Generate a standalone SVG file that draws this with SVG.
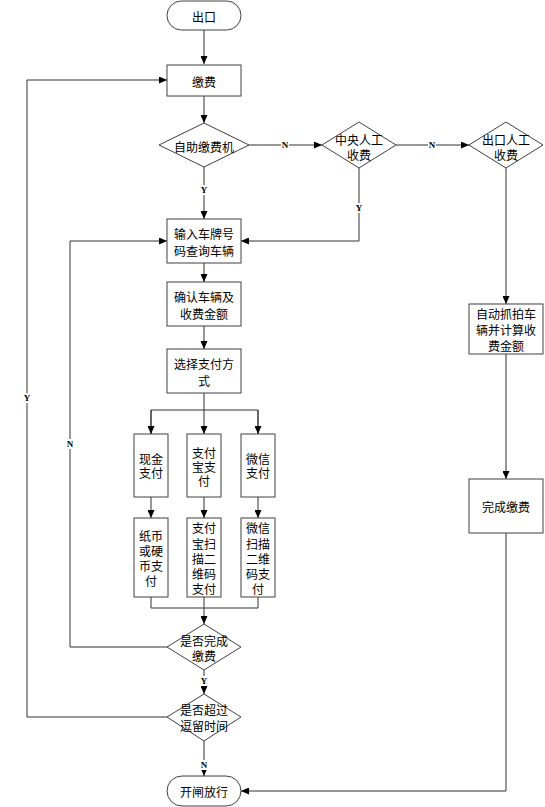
<svg xmlns="http://www.w3.org/2000/svg" width="545" height="807" viewBox="0 0 545 807">
<style>
.n{fill:#fff;stroke:#404040;stroke-width:1}
.t{font-family:"Noto Sans CJK SC","Noto Sans",sans-serif;font-size:12px;fill:#000;text-anchor:middle;dominant-baseline:central}
.c{fill:none;stroke:#333;stroke-width:1}
.lb{font-family:"Liberation Serif",serif;font-size:9px;font-weight:bold;fill:#000;text-anchor:middle;dominant-baseline:central}
</style>
<defs>
<marker id="a" markerUnits="userSpaceOnUse" markerWidth="8" markerHeight="7" refX="8" refY="3.5" orient="auto">
<path d="M0,0 L8,3.5 L0,7 z" fill="#000"/>
</marker>
</defs>
<rect width="545" height="807" fill="#fff"/>
<g id="connectors">
<path class="c" d="M204,30 V64" marker-end="url(#a)"/>
<path class="c" d="M204,96 V123" marker-end="url(#a)"/>
<path class="c" d="M249,145 H322" marker-end="url(#a)"/>
<path class="c" d="M396,145 H469" marker-end="url(#a)"/>
<path class="c" d="M204,167 V219" marker-end="url(#a)"/>
<path class="c" d="M359,168 V241 H241" marker-end="url(#a)"/>
<path class="c" d="M204,263 V282" marker-end="url(#a)"/>
<path class="c" d="M204,326 V349" marker-end="url(#a)"/>
<path class="c" d="M204,393 V410"/>
<path class="c" d="M151,434 V410 H258 V434"/>
<path class="c" d="M151,410 V434" marker-end="url(#a)"/>
<path class="c" d="M204,410 V434" marker-end="url(#a)"/>
<path class="c" d="M258,410 V434" marker-end="url(#a)"/>
<path class="c" d="M151,497 V518" marker-end="url(#a)"/>
<path class="c" d="M204,497 V518" marker-end="url(#a)"/>
<path class="c" d="M258,497 V518" marker-end="url(#a)"/>
<path class="c" d="M151,597 V608 H258 V597"/>
<path class="c" d="M204,597 V624" marker-end="url(#a)"/>
<path class="c" d="M204,670 V694" marker-end="url(#a)"/>
<path class="c" d="M204,741 V776" marker-end="url(#a)"/>
<path class="c" d="M167,647 H70 V241 H167" marker-end="url(#a)"/>
<path class="c" d="M167,717 H27 V80 H167" marker-end="url(#a)"/>
<path class="c" d="M506,168 V304" marker-end="url(#a)"/>
<path class="c" d="M506,354 V479" marker-end="url(#a)"/>
<path class="c" d="M506,533 V791 H241" marker-end="url(#a)"/>
<g id="labels">
<rect x="281" y="140" width="8" height="10" fill="#fff"/><text class="lb" x="285" y="145">N</text>
<rect x="428" y="140" width="8" height="10" fill="#fff"/><text class="lb" x="432" y="145">N</text>
<rect x="200" y="185" width="8" height="10" fill="#fff"/><text class="lb" x="204" y="190">Y</text>
<rect x="355" y="203" width="8" height="10" fill="#fff"/><text class="lb" x="359" y="208">Y</text>
<rect x="66" y="439" width="8" height="10" fill="#fff"/><text class="lb" x="70" y="444">N</text>
<rect x="23" y="393" width="8" height="10" fill="#fff"/><text class="lb" x="27" y="398">Y</text>
<rect x="200" y="676" width="8" height="10" fill="#fff"/><text class="lb" x="204" y="681">Y</text>
<rect x="200" y="760" width="8" height="10" fill="#fff"/><text class="lb" x="204" y="765">N</text>
</g>
</g>
<g id="start"><rect class="n" x="167" y="1" width="74" height="29" rx="14.5"/><text class="t" x="204" y="16">出口</text></g>
<g id="pay"><rect class="n" x="167" y="65" width="74" height="31"/><text class="t" x="204" y="81">缴费</text></g>
<g id="selfpay"><polygon class="n" points="159,145 204,123 249,145 204,167"/><text class="t" x="204" y="146">自助缴费机</text></g>
<g id="central"><polygon class="n" points="322,145 359,122 396,145 359,168"/><text class="t"><tspan x="359" y="139">中央人工</tspan><tspan x="359" y="154">收费</tspan></text></g>
<g id="exitmanual"><polygon class="n" points="469,145 506,122 543,145 506,168"/><text class="t"><tspan x="506" y="139">出口人工</tspan><tspan x="506" y="154">收费</tspan></text></g>
<g id="input"><rect class="n" x="167" y="219" width="74" height="44"/><text class="t"><tspan x="204" y="233">输入车牌号</tspan><tspan x="204" y="250">码查询车辆</tspan></text></g>
<g id="confirm"><rect class="n" x="167" y="282" width="74" height="44"/><text class="t"><tspan x="204" y="296">确认车辆及</tspan><tspan x="204" y="313">收费金额</tspan></text></g>
<g id="choose"><rect class="n" x="167" y="349" width="74" height="44"/><text class="t"><tspan x="204" y="363">选择支付方</tspan><tspan x="204" y="380">式</tspan></text></g>
<g id="cash"><rect class="n" x="134" y="434" width="34" height="63"/><text class="t"><tspan x="151" y="458">现金</tspan><tspan x="151" y="472">支付</tspan></text></g>
<g id="alipay"><rect class="n" x="187" y="434" width="34" height="63"/><text class="t"><tspan x="204" y="452">支付</tspan><tspan x="204" y="466">宝支</tspan><tspan x="204" y="480">付</tspan></text></g>
<g id="wechat"><rect class="n" x="241" y="434" width="34" height="63"/><text class="t"><tspan x="258" y="458">微信</tspan><tspan x="258" y="472">支付</tspan></text></g>
<g id="cash2"><rect class="n" x="134" y="518" width="34" height="79"/><text class="t"><tspan x="151" y="535">纸币</tspan><tspan x="151" y="550">或硬</tspan><tspan x="151" y="565">币支</tspan><tspan x="151" y="580">付</tspan></text></g>
<g id="alipay2"><rect class="n" x="187" y="518" width="34" height="79"/><text class="t"><tspan x="204" y="527">支付</tspan><tspan x="204" y="543">宝扫</tspan><tspan x="204" y="558">描二</tspan><tspan x="204" y="573">维码</tspan><tspan x="204" y="588">支付</tspan></text></g>
<g id="wechat2"><rect class="n" x="241" y="518" width="34" height="79"/><text class="t"><tspan x="258" y="527">微信</tspan><tspan x="258" y="543">扫描</tspan><tspan x="258" y="558">二维</tspan><tspan x="258" y="573">码支</tspan><tspan x="258" y="588">付</tspan></text></g>
<g id="done"><polygon class="n" points="167,647 204,624 241,647 204,670"/><text class="t"><tspan x="204" y="640">是否完成</tspan><tspan x="204" y="655">缴费</tspan></text></g>
<g id="overtime"><polygon class="n" points="167,717 204,694 241,717 204,741"/><text class="t"><tspan x="204" y="709">是否超过</tspan><tspan x="204" y="725">逗留时间</tspan></text></g>
<g id="open"><rect class="n" x="167" y="776" width="74" height="30" rx="15"/><text class="t" x="204" y="791">开闸放行</text></g>
<g id="capture"><rect class="n" x="469" y="304" width="74" height="50"/><text class="t"><tspan x="506" y="313">自动抓拍车</tspan><tspan x="506" y="329">辆并计算收</tspan><tspan x="506" y="345">费金额</tspan></text></g>
<g id="finish"><rect class="n" x="469" y="479" width="74" height="54"/><text class="t" x="506" y="506">完成缴费</text></g>
</svg>
